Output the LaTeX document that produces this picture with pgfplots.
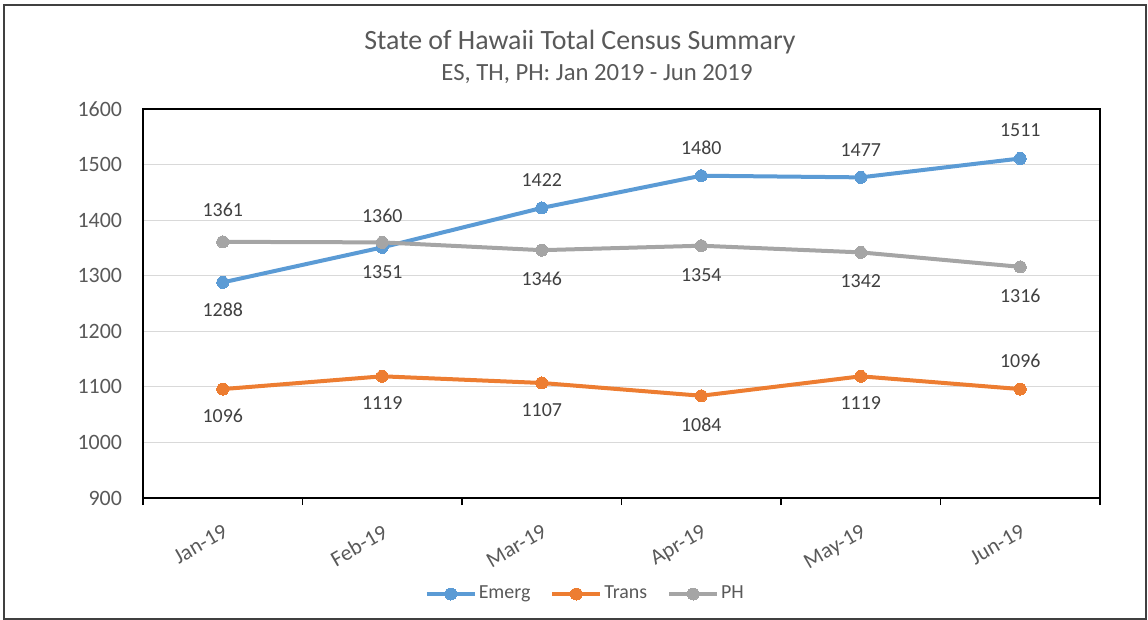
\documentclass[border=0pt]{standalone}
\usepackage{pgfplots}
\pgfplotsset{compat=1.18}
\usepackage{pgfplotstable}
\usepackage{fontspec}
\setmainfont{Carlito}
\definecolor{cEmerg}{HTML}{5B9BD5}
\definecolor{cTrans}{HTML}{ED7D31}
\definecolor{cPH}{HTML}{A5A5A5}
\definecolor{txt}{HTML}{595959}
\definecolor{lbl}{HTML}{404040}
\definecolor{gridc}{HTML}{D9D9D9}

\pgfplotstableread{
x y dy
0 1288 -13.5
1 1351 -12.5
2 1422 14
3 1480 14
4 1477 13.5
5 1511 14
}\emerg
\pgfplotstableread{
x y dy
0 1096 -13.5
1 1119 -13.5
2 1107 -13.5
3 1084 -14.5
4 1119 -13.5
5 1096 14
}\trans
\pgfplotstableread{
x y dy
0 1361 16
1 1360 13.5
2 1346 -14.5
3 1354 -14.5
4 1342 -14.5
5 1316 -14.5
}\ph

\begin{document}
\begin{tikzpicture}
\useasboundingbox (0,0) rectangle (574bp,-310bp);
\draw[black!75, line width=0.6bp] (2bp,-2.5bp) rectangle (573bp,-309.5bp);
\node[text=txt, font=\fontsize{14}{16}\selectfont] at (290bp,-21bp) {State of Hawaii Total Census Summary};
\node[text=txt, font=\fontsize{12.4}{15}\selectfont] at (298.5bp,-37bp) {ES, TH, PH: Jan 2019 - Jun 2019};
\begin{axis}[
  at={(71.5bp,-249bp)}, anchor=south west,
  scale only axis, width=478.5bp, height=194.5bp,
  xmin=-0.5, xmax=5.5, ymin=900, ymax=1600,
  xtick={0,1,2,3,4,5},
  xticklabels={Jan-19,Feb-19,Mar-19,Apr-19,May-19,Jun-19},
  minor xtick={-0.5,0.5,1.5,2.5,3.5,4.5,5.5},
  ytick={900,1000,...,1600},
  major tick length=0pt, minor tick length=3.5bp,
  tick align=outside, tick pos=bottom,
  minor tick style={black, line width=0.75bp},
  axis line style={black, line width=0.75bp},
  ymajorgrids, grid style={color=gridc, line width=0.6bp},
  /pgf/number format/assume math mode=true,
  /pgf/number format/set thousands separator={},
  yticklabel style={text=txt, font=\fontsize{11}{13}\selectfont, xshift=-7bp},
  xticklabel style={text=txt, font=\fontsize{11}{13}\selectfont, rotate=30, anchor=north east, inner sep=1bp},
  xticklabel shift=11bp,
  legend style={at={(0.4622,-0.2468)}, anchor=center, draw=none, legend columns=3,
    font=\fontsize{10}{12}\selectfont, text=txt, inner sep=0pt,
    /tikz/every even column/.append style={column sep=9bp},
    nodes={inner sep=1bp}},
  legend cell align=left,
  legend image code/.code={\draw[mark repeat=2, mark phase=2] plot coordinates {(0bp,0bp) (12bp,0bp) (24bp,0bp)};},
  every axis plot/.append style={line width=2bp, mark=*, mark size=3bp},
  nodes near coords,
  point meta=explicit,
  visualization depends on={\thisrow{dy} \as \dy},
  every node near coord/.append style={anchor=center, yshift=\dy bp, text=lbl, font=\fontsize{10}{12}\selectfont},
]
\addplot[color=cEmerg, mark options={fill=cEmerg, draw=cEmerg, line width=0pt}] table[x=x, y=y, meta=y] {\emerg};
\addlegendentry{Emerg}
\addplot[color=cTrans, mark options={fill=cTrans, draw=cTrans, line width=0pt}] table[x=x, y=y, meta=y] {\trans};
\addlegendentry{Trans}
\addplot[color=cPH, mark options={fill=cPH, draw=cPH, line width=0pt}] table[x=x, y=y, meta=y] {\ph};
\addlegendentry{PH}
\end{axis}
\end{tikzpicture}
\end{document}
